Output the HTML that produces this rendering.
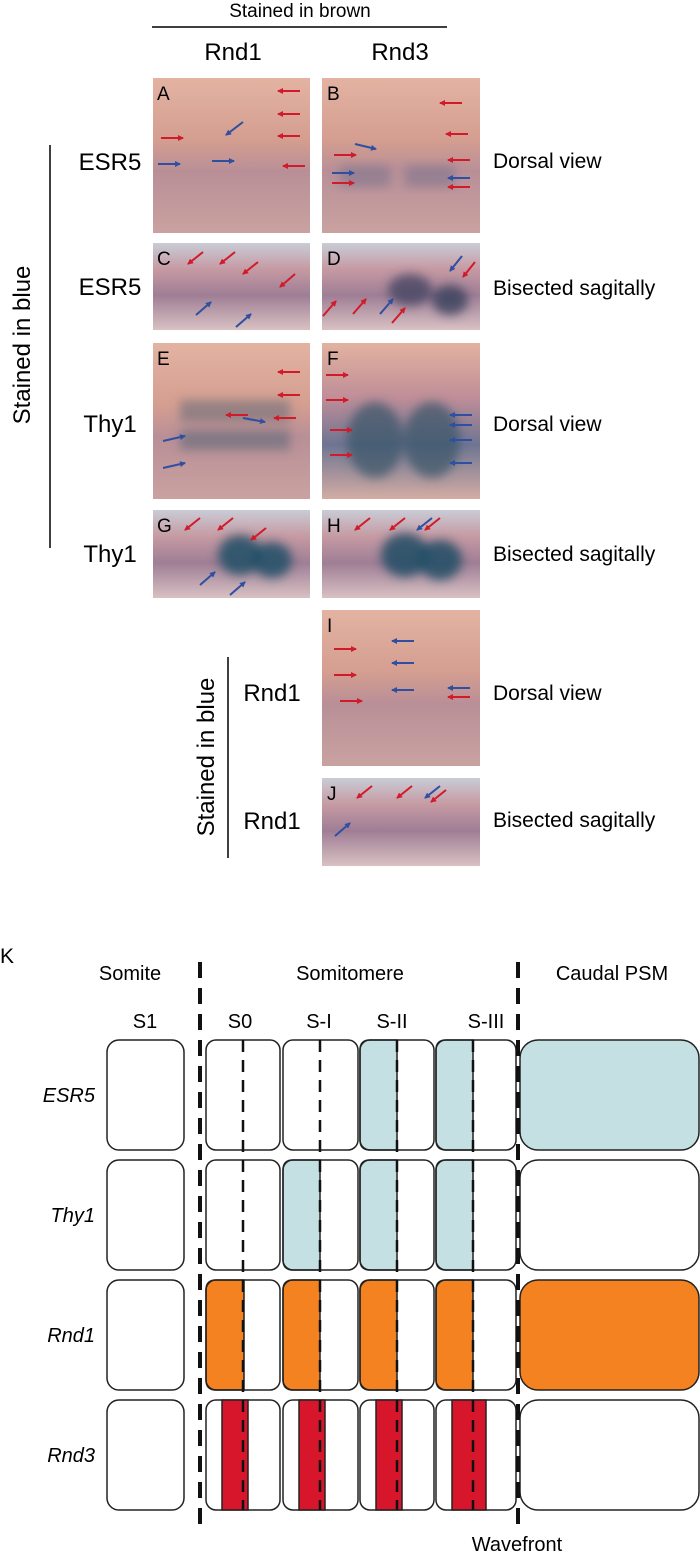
<!DOCTYPE html>
<html><head><meta charset="utf-8"><style>
html,body{margin:0;padding:0;background:#fff;}
svg{display:block;font-family:"Liberation Sans",Arial,sans-serif;}
</style></head><body>
<svg width="700" height="1564" viewBox="0 0 700 1564" xmlns="http://www.w3.org/2000/svg">
<defs>
<filter id="bl" x="-30%" y="-30%" width="160%" height="160%"><feGaussianBlur stdDeviation="5"/></filter>
<marker id="r" markerWidth="6" markerHeight="6" refX="5" refY="3" orient="auto" markerUnits="userSpaceOnUse"><path d="M0,0 L6,3 L0,6 z" fill="#d11a2a"/></marker>
<marker id="b" markerWidth="6" markerHeight="6" refX="5" refY="3" orient="auto" markerUnits="userSpaceOnUse"><path d="M0,0 L6,3 L0,6 z" fill="#2f4fa0"/></marker>
<linearGradient id="dv" x1="0" y1="0" x2="0" y2="1">
<stop offset="0" stop-color="#e3b3a2"/><stop offset="0.4" stop-color="#d49e90"/><stop offset="0.6" stop-color="#b98f97"/><stop offset="1" stop-color="#c9a2a0"/></linearGradient>
<linearGradient id="dv2" x1="0" y1="0" x2="0" y2="1">
<stop offset="0" stop-color="#e2b2a0"/><stop offset="0.35" stop-color="#bf8e98"/><stop offset="0.65" stop-color="#6e7592"/><stop offset="1" stop-color="#d3aca3"/></linearGradient>
<linearGradient id="sg" x1="0" y1="0" x2="0" y2="1">
<stop offset="0" stop-color="#c9ccd6"/><stop offset="0.3" stop-color="#c69aa3"/><stop offset="0.6" stop-color="#9f7e95"/><stop offset="1" stop-color="#d8c1c3"/></linearGradient>
<clipPath id="cB"><rect x="322" y="78" width="158" height="155"/></clipPath>
<clipPath id="cD"><rect x="322" y="243" width="158" height="87"/></clipPath>
<clipPath id="cE"><rect x="153" y="343" width="157" height="156"/></clipPath>
<clipPath id="cF"><rect x="322" y="343" width="158" height="156"/></clipPath>
<clipPath id="cG"><rect x="153" y="510" width="157" height="88"/></clipPath>
<clipPath id="cH"><rect x="322" y="510" width="158" height="88"/></clipPath>
</defs>

<text x="300" y="17" font-size="19" text-anchor="middle">Stained in brown</text>
<line x1="152" y1="27" x2="447" y2="27" stroke="#000" stroke-width="1.5"/>
<text x="233" y="60" font-size="24" text-anchor="middle">Rnd1</text>
<text x="400" y="60" font-size="24" text-anchor="middle">Rnd3</text>

<line x1="50" y1="145" x2="50" y2="548" stroke="#000" stroke-width="1.5"/>
<text transform="translate(30,345) rotate(-90)" font-size="24" text-anchor="middle">Stained in blue</text>
<text x="110" y="170" font-size="24" text-anchor="middle">ESR5</text>
<text x="110" y="295" font-size="24" text-anchor="middle">ESR5</text>
<text x="110" y="432" font-size="24" text-anchor="middle">Thy1</text>
<text x="110" y="562" font-size="24" text-anchor="middle">Thy1</text>

<rect x="153" y="78" width="157" height="155" fill="url(#dv)"/>
<rect x="322" y="78" width="158" height="155" fill="url(#dv)"/>
<g clip-path="url(#cB)" filter="url(#bl)">
<rect x="340" y="165" width="50" height="22" fill="#6c6b8a" opacity="0.45"/>
<rect x="405" y="165" width="50" height="22" fill="#6c6b8a" opacity="0.45"/>
</g>
<rect x="153" y="243" width="157" height="87" fill="url(#sg)"/>
<rect x="322" y="243" width="158" height="87" fill="url(#sg)"/>
<g clip-path="url(#cD)" filter="url(#bl)">
<ellipse cx="410" cy="290" rx="22" ry="16" fill="#3c4060" opacity="0.75"/>
<ellipse cx="450" cy="300" rx="18" ry="15" fill="#2f3a55" opacity="0.75"/>
</g>
<rect x="153" y="343" width="157" height="156" fill="url(#dv)"/>
<g clip-path="url(#cE)" filter="url(#bl)">
<rect x="180" y="400" width="110" height="22" fill="#4c5e74" opacity="0.45"/>
<rect x="180" y="430" width="110" height="20" fill="#3d5c6e" opacity="0.45"/>
</g>
<rect x="322" y="343" width="158" height="156" fill="url(#dv2)"/>
<g clip-path="url(#cF)" filter="url(#bl)">
<ellipse cx="375" cy="440" rx="28" ry="38" fill="#37546a" opacity="0.7"/>
<ellipse cx="432" cy="440" rx="28" ry="38" fill="#37546a" opacity="0.7"/>
</g>
<rect x="153" y="510" width="157" height="88" fill="url(#sg)"/>
<g clip-path="url(#cG)" filter="url(#bl)">
<ellipse cx="240" cy="555" rx="22" ry="20" fill="#1f4f66" opacity="0.85"/>
<ellipse cx="272" cy="560" rx="20" ry="18" fill="#1f4f66" opacity="0.85"/>
</g>
<rect x="322" y="510" width="158" height="88" fill="url(#sg)"/>
<g clip-path="url(#cH)" filter="url(#bl)">
<ellipse cx="405" cy="555" rx="24" ry="22" fill="#1d4d65" opacity="0.85"/>
<ellipse cx="440" cy="560" rx="22" ry="20" fill="#1d4d65" opacity="0.85"/>
</g>
<rect x="322" y="610" width="158" height="156" fill="url(#dv)"/>
<rect x="322" y="778" width="158" height="88" fill="url(#sg)"/>

<g font-size="19">
<text x="157" y="100">A</text><text x="327" y="100">B</text>
<text x="157" y="265">C</text><text x="327" y="265">D</text>
<text x="157" y="365">E</text><text x="327" y="365">F</text>
<text x="157" y="532">G</text><text x="327" y="532">H</text>
<text x="327" y="632">I</text><text x="327" y="800">J</text>
</g>

<g stroke-width="2" fill="none">
<line x1="300" y1="91" x2="278" y2="91" stroke="#d11a2a" marker-end="url(#r)"/>
<line x1="300" y1="114" x2="278" y2="114" stroke="#d11a2a" marker-end="url(#r)"/>
<line x1="300" y1="136" x2="278" y2="136" stroke="#d11a2a" marker-end="url(#r)"/>
<line x1="305" y1="166" x2="283" y2="166" stroke="#d11a2a" marker-end="url(#r)"/>
<line x1="161" y1="138" x2="183" y2="138" stroke="#d11a2a" marker-end="url(#r)"/>
<line x1="158" y1="164" x2="180" y2="164" stroke="#2f4fa0" marker-end="url(#b)"/>
<line x1="212" y1="161" x2="234" y2="161" stroke="#2f4fa0" marker-end="url(#b)"/>
<line x1="243" y1="122" x2="226" y2="135" stroke="#2f4fa0" marker-end="url(#b)"/>
<line x1="462" y1="103" x2="440" y2="103" stroke="#d11a2a" marker-end="url(#r)"/>
<line x1="468" y1="134" x2="446" y2="134" stroke="#d11a2a" marker-end="url(#r)"/>
<line x1="470" y1="160" x2="448" y2="160" stroke="#d11a2a" marker-end="url(#r)"/>
<line x1="470" y1="178" x2="448" y2="178" stroke="#2f4fa0" marker-end="url(#b)"/>
<line x1="470" y1="187" x2="448" y2="187" stroke="#d11a2a" marker-end="url(#r)"/>
<line x1="334" y1="155" x2="356" y2="155" stroke="#d11a2a" marker-end="url(#r)"/>
<line x1="332" y1="173" x2="354" y2="173" stroke="#2f4fa0" marker-end="url(#b)"/>
<line x1="332" y1="183" x2="354" y2="183" stroke="#d11a2a" marker-end="url(#r)"/>
<line x1="355" y1="144" x2="376" y2="149" stroke="#2f4fa0" marker-end="url(#b)"/>
<line x1="203" y1="252" x2="188" y2="264" stroke="#d11a2a" marker-end="url(#r)"/>
<line x1="235" y1="252" x2="220" y2="264" stroke="#d11a2a" marker-end="url(#r)"/>
<line x1="258" y1="262" x2="243" y2="274" stroke="#d11a2a" marker-end="url(#r)"/>
<line x1="295" y1="274" x2="280" y2="287" stroke="#d11a2a" marker-end="url(#r)"/>
<line x1="196" y1="315" x2="211" y2="302" stroke="#2f4fa0" marker-end="url(#b)"/>
<line x1="236" y1="327" x2="251" y2="314" stroke="#2f4fa0" marker-end="url(#b)"/>
<line x1="323" y1="316" x2="336" y2="301" stroke="#d11a2a" marker-end="url(#r)"/>
<line x1="353" y1="314" x2="366" y2="299" stroke="#d11a2a" marker-end="url(#r)"/>
<line x1="380" y1="314" x2="393" y2="299" stroke="#2f4fa0" marker-end="url(#b)"/>
<line x1="392" y1="323" x2="405" y2="308" stroke="#d11a2a" marker-end="url(#r)"/>
<line x1="462" y1="256" x2="450" y2="271" stroke="#2f4fa0" marker-end="url(#b)"/>
<line x1="475" y1="262" x2="463" y2="277" stroke="#d11a2a" marker-end="url(#r)"/>
<line x1="300" y1="372" x2="278" y2="372" stroke="#d11a2a" marker-end="url(#r)"/>
<line x1="300" y1="395" x2="278" y2="395" stroke="#d11a2a" marker-end="url(#r)"/>
<line x1="296" y1="418" x2="274" y2="418" stroke="#d11a2a" marker-end="url(#r)"/>
<line x1="248" y1="415" x2="226" y2="415" stroke="#d11a2a" marker-end="url(#r)"/>
<line x1="243" y1="418" x2="265" y2="422" stroke="#2f4fa0" marker-end="url(#b)"/>
<line x1="163" y1="441" x2="185" y2="436" stroke="#2f4fa0" marker-end="url(#b)"/>
<line x1="163" y1="468" x2="185" y2="463" stroke="#2f4fa0" marker-end="url(#b)"/>
<line x1="326" y1="375" x2="348" y2="375" stroke="#d11a2a" marker-end="url(#r)"/>
<line x1="326" y1="400" x2="348" y2="400" stroke="#d11a2a" marker-end="url(#r)"/>
<line x1="330" y1="430" x2="352" y2="430" stroke="#d11a2a" marker-end="url(#r)"/>
<line x1="330" y1="455" x2="352" y2="455" stroke="#d11a2a" marker-end="url(#r)"/>
<line x1="472" y1="415" x2="450" y2="415" stroke="#2f4fa0" marker-end="url(#b)"/>
<line x1="472" y1="425" x2="450" y2="425" stroke="#2f4fa0" marker-end="url(#b)"/>
<line x1="472" y1="440" x2="450" y2="440" stroke="#2f4fa0" marker-end="url(#b)"/>
<line x1="472" y1="463" x2="450" y2="463" stroke="#2f4fa0" marker-end="url(#b)"/>
<line x1="200" y1="518" x2="185" y2="530" stroke="#d11a2a" marker-end="url(#r)"/>
<line x1="233" y1="518" x2="218" y2="530" stroke="#d11a2a" marker-end="url(#r)"/>
<line x1="266" y1="528" x2="251" y2="540" stroke="#d11a2a" marker-end="url(#r)"/>
<line x1="200" y1="585" x2="215" y2="572" stroke="#2f4fa0" marker-end="url(#b)"/>
<line x1="230" y1="595" x2="245" y2="582" stroke="#2f4fa0" marker-end="url(#b)"/>
<line x1="370" y1="518" x2="355" y2="530" stroke="#d11a2a" marker-end="url(#r)"/>
<line x1="405" y1="518" x2="390" y2="530" stroke="#d11a2a" marker-end="url(#r)"/>
<line x1="432" y1="518" x2="417" y2="530" stroke="#2f4fa0" marker-end="url(#b)"/>
<line x1="440" y1="518" x2="425" y2="530" stroke="#d11a2a" marker-end="url(#r)"/>
<line x1="334" y1="649" x2="356" y2="649" stroke="#d11a2a" marker-end="url(#r)"/>
<line x1="334" y1="675" x2="356" y2="675" stroke="#d11a2a" marker-end="url(#r)"/>
<line x1="340" y1="701" x2="362" y2="701" stroke="#d11a2a" marker-end="url(#r)"/>
<line x1="414" y1="641" x2="392" y2="641" stroke="#2f4fa0" marker-end="url(#b)"/>
<line x1="414" y1="663" x2="392" y2="663" stroke="#2f4fa0" marker-end="url(#b)"/>
<line x1="414" y1="690" x2="392" y2="690" stroke="#2f4fa0" marker-end="url(#b)"/>
<line x1="470" y1="688" x2="448" y2="688" stroke="#2f4fa0" marker-end="url(#b)"/>
<line x1="470" y1="697" x2="448" y2="697" stroke="#d11a2a" marker-end="url(#r)"/>
<line x1="372" y1="786" x2="357" y2="798" stroke="#d11a2a" marker-end="url(#r)"/>
<line x1="412" y1="786" x2="397" y2="798" stroke="#d11a2a" marker-end="url(#r)"/>
<line x1="440" y1="786" x2="425" y2="798" stroke="#2f4fa0" marker-end="url(#b)"/>
<line x1="446" y1="790" x2="431" y2="802" stroke="#d11a2a" marker-end="url(#r)"/>
<line x1="335" y1="836" x2="350" y2="823" stroke="#2f4fa0" marker-end="url(#b)"/>
</g>

<g font-size="21">
<text x="493" y="168">Dorsal view</text>
<text x="493" y="295">Bisected sagitally</text>
<text x="493" y="431">Dorsal view</text>
<text x="493" y="561">Bisected sagitally</text>
<text x="493" y="700">Dorsal view</text>
<text x="493" y="827">Bisected sagitally</text>
</g>

<line x1="228" y1="657" x2="228" y2="858" stroke="#000" stroke-width="1.5"/>
<text transform="translate(214,757) rotate(-90)" font-size="24" text-anchor="middle">Stained in blue</text>
<text x="272" y="701" font-size="24" text-anchor="middle">Rnd1</text>
<text x="272" y="829" font-size="24" text-anchor="middle">Rnd1</text>

<text x="0" y="963" font-size="21">K</text>
<g font-size="20" text-anchor="middle">
<text x="130" y="980">Somite</text>
<text x="350" y="980">Somitomere</text>
<text x="612" y="980">Caudal PSM</text>
<text x="145" y="1028">S1</text>
<text x="240" y="1028">S0</text>
<text x="319" y="1028">S-I</text>
<text x="392" y="1028">S-II</text>
<text x="486" y="1028">S-III</text>
<text x="517" y="1551">Wavefront</text>
</g>
<g font-size="20" font-style="italic" text-anchor="end">
<text x="95" y="1102">ESR5</text>
<text x="95" y="1222">Thy1</text>
<text x="95" y="1342">Rnd1</text>
<text x="95" y="1462">Rnd3</text>
</g>

<g stroke="#222" stroke-width="1.5">
<rect x="107" y="1040" width="77" height="110" rx="12" fill="#fff"/>
<rect x="206" y="1040" width="74" height="110" rx="10" fill="#fff"/>
<rect x="283" y="1040" width="75" height="110" rx="10" fill="#fff"/>
<path d="M397,1040 H370 Q360,1040 360,1050 V1140 Q360,1150 370,1150 H397 Z" fill="#c5e0e3"/>
<rect x="360" y="1040" width="74" height="110" rx="10" fill="none"/>
<path d="M473,1040 H446 Q436,1040 436,1050 V1140 Q436,1150 446,1150 H473 Z" fill="#c5e0e3"/>
<rect x="436" y="1040" width="80" height="110" rx="10" fill="none"/>
<rect x="520" y="1040" width="179" height="110" rx="18" fill="#c5e0e3"/>
<rect x="107" y="1160" width="77" height="110" rx="12" fill="#fff"/>
<rect x="206" y="1160" width="74" height="110" rx="10" fill="#fff"/>
<path d="M320,1160 H293 Q283,1160 283,1170 V1260 Q283,1270 293,1270 H320 Z" fill="#c5e0e3"/>
<rect x="283" y="1160" width="75" height="110" rx="10" fill="none"/>
<path d="M397,1160 H370 Q360,1160 360,1170 V1260 Q360,1270 370,1270 H397 Z" fill="#c5e0e3"/>
<rect x="360" y="1160" width="74" height="110" rx="10" fill="none"/>
<path d="M473,1160 H446 Q436,1160 436,1170 V1260 Q436,1270 446,1270 H473 Z" fill="#c5e0e3"/>
<rect x="436" y="1160" width="80" height="110" rx="10" fill="none"/>
<rect x="520" y="1160" width="179" height="110" rx="18" fill="#fff"/>
<rect x="107" y="1280" width="77" height="110" rx="12" fill="#fff"/>
<path d="M244,1280 H216 Q206,1280 206,1290 V1380 Q206,1390 216,1390 H244 Z" fill="#f58220"/>
<rect x="206" y="1280" width="74" height="110" rx="10" fill="none"/>
<path d="M320,1280 H293 Q283,1280 283,1290 V1380 Q283,1390 293,1390 H320 Z" fill="#f58220"/>
<rect x="283" y="1280" width="75" height="110" rx="10" fill="none"/>
<path d="M397,1280 H370 Q360,1280 360,1290 V1380 Q360,1390 370,1390 H397 Z" fill="#f58220"/>
<rect x="360" y="1280" width="74" height="110" rx="10" fill="none"/>
<path d="M473,1280 H446 Q436,1280 436,1290 V1380 Q436,1390 446,1390 H473 Z" fill="#f58220"/>
<rect x="436" y="1280" width="80" height="110" rx="10" fill="none"/>
<rect x="520" y="1280" width="179" height="110" rx="18" fill="#f58220"/>
<rect x="107" y="1400" width="77" height="110" rx="12" fill="#fff"/>
<rect x="206" y="1400" width="74" height="110" rx="10" fill="#fff"/>
<rect x="222" y="1400" width="26" height="110" fill="#d7162c"/>
<rect x="283" y="1400" width="75" height="110" rx="10" fill="#fff"/>
<rect x="299" y="1400" width="26" height="110" fill="#d7162c"/>
<rect x="360" y="1400" width="74" height="110" rx="10" fill="#fff"/>
<rect x="376" y="1400" width="26" height="110" fill="#d7162c"/>
<rect x="436" y="1400" width="80" height="110" rx="10" fill="#fff"/>
<rect x="452" y="1400" width="34" height="110" fill="#d7162c"/>
<rect x="520" y="1400" width="179" height="110" rx="18" fill="#fff"/>
</g>
<g stroke="#111" fill="none">
<line x1="200" y1="962" x2="200" y2="1525" stroke-width="4" stroke-dasharray="16,10"/>
<line x1="518" y1="962" x2="518" y2="1525" stroke-width="4" stroke-dasharray="16,10"/>
<g stroke-width="2.5" stroke-dasharray="12,8">
<line x1="243" y1="1040" x2="243" y2="1510"/>
<line x1="320" y1="1040" x2="320" y2="1510"/>
<line x1="397" y1="1040" x2="397" y2="1510"/>
<line x1="473" y1="1040" x2="473" y2="1510"/>
</g>
</g>
</svg>
</body></html>
